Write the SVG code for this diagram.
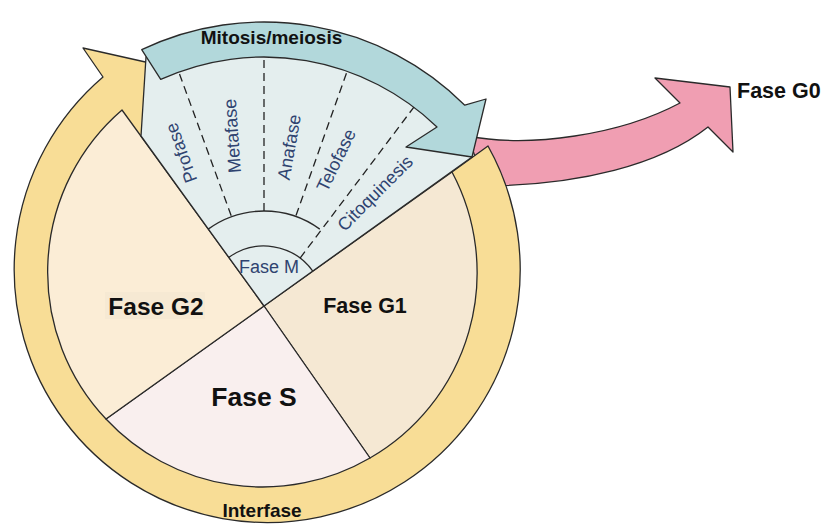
<svg xmlns="http://www.w3.org/2000/svg" width="824" height="527" viewBox="0 0 824 527">
<style>
.st{stroke:#2a2a2a;stroke-width:1.3;stroke-linejoin:round}
.b{font-family:"Liberation Sans",Arial,sans-serif;font-weight:bold;fill:#111}
.ph{font-family:"Liberation Sans",Arial,sans-serif;font-size:18px;fill:#2f4370;text-anchor:middle}
.dash{fill:none;stroke:#222;stroke-width:1.3;stroke-dasharray:8 5}
.ln{fill:none;stroke:#2a2a2a;stroke-width:1.3}
</style>
<rect width="824" height="527" fill="#fff"/>
<g id="fase-g0-arrow">
<path class="st" fill="#F09EB2" d="M468,136 C530,148 620,135 680,103 L655,78 L730,87 L733,152 L708,127 C660,165 580,185 485,186 Z"/>
<text class="b" x="737" y="98" font-size="21.5">Fase G0</text>
</g>
<g id="interfase-ring">
<path class="st" fill="#F8DD96" d="M488,146 A253 253 0 1 1 103,77 L83,48 L190,72 L150,175 L452,172 Z"/>
<text class="b" x="262" y="517" font-size="19" text-anchor="middle">Interfase</text>
</g>
<g id="fase-g1">
<path class="st" fill="#F5E8D3" d="M264,306 L452,172 A214 214 0 0 1 370,458 Z"/>
<text class="b" x="365" y="313" font-size="21.5" text-anchor="middle">Fase G1</text>
</g>
<g id="fase-s">
<path class="st" fill="#F9EFEE" d="M264,306 L370,458 A214 214 0 0 1 106,419 Z"/>
<text class="b" x="254" y="406" font-size="26.5" text-anchor="middle">Fase S</text>
</g>
<g id="fase-g2">
<path class="st" fill="#FBEDD6" d="M264,306 L106,419 A214 214 0 0 1 122,110 Z"/>
<rect x="105" y="292" width="100" height="27" fill="#F6E9D3"/>
<text class="b" x="156" y="315" font-size="24.5" text-anchor="middle">Fase G2</text>
</g>
<g id="fase-m">
<path class="st" fill="#E4EEEE" d="M264,306 L141,136 L146,57 L200,45 L260,40 L420,90 L472,157 Z"/>
</g>
<g id="mitosis-arrow">
<path class="st" fill="#B2D8DB" d="M141.7,49.7 A284 284 0 0 1 464.8,105.2 L486,99 L472,157 L406,147 L437,127 A249 249 0 0 0 160.7,79.4 Z"/>
<text class="b" x="271.5" y="43.5" font-size="19" text-anchor="middle">Mitosis/meiosis</text>
</g>
<g id="connectors">
<path class="ln" d="M228.8,257.4 A60 60 0 0 1 312.8,271.1"/>
<path class="ln" d="M208.2,229.1 A95 95 0 0 1 319.8,229.1"/>
<line class="dash" x1="231.2" y1="215.8" x2="178.8" y2="72"/>
<line class="dash" x1="264" y1="211" x2="264" y2="57"/>
<line class="dash" x1="296" y1="215.5" x2="347.1" y2="71.3"/>
<line class="dash" x1="300.1" y1="258.1" x2="413.9" y2="107.1"/>
</g>
<g id="phase-labels">
<text class="ph" transform="translate(181,153) rotate(-110)" dy="0.35em">Profase</text>
<text class="ph" transform="translate(232,136) rotate(-94)" dy="0.35em">Metafase</text>
<text class="ph" transform="translate(289,147) rotate(-80)" dy="0.35em">Anafase</text>
<text class="ph" transform="translate(336,160) rotate(-64)" dy="0.35em">Telofase</text>
<text class="ph" transform="translate(375,193) rotate(-45)" dy="0.35em">Citoquinesis</text>
<text class="ph" x="269" y="267" dy="0.35em">Fase M</text>
</g>
</svg>
